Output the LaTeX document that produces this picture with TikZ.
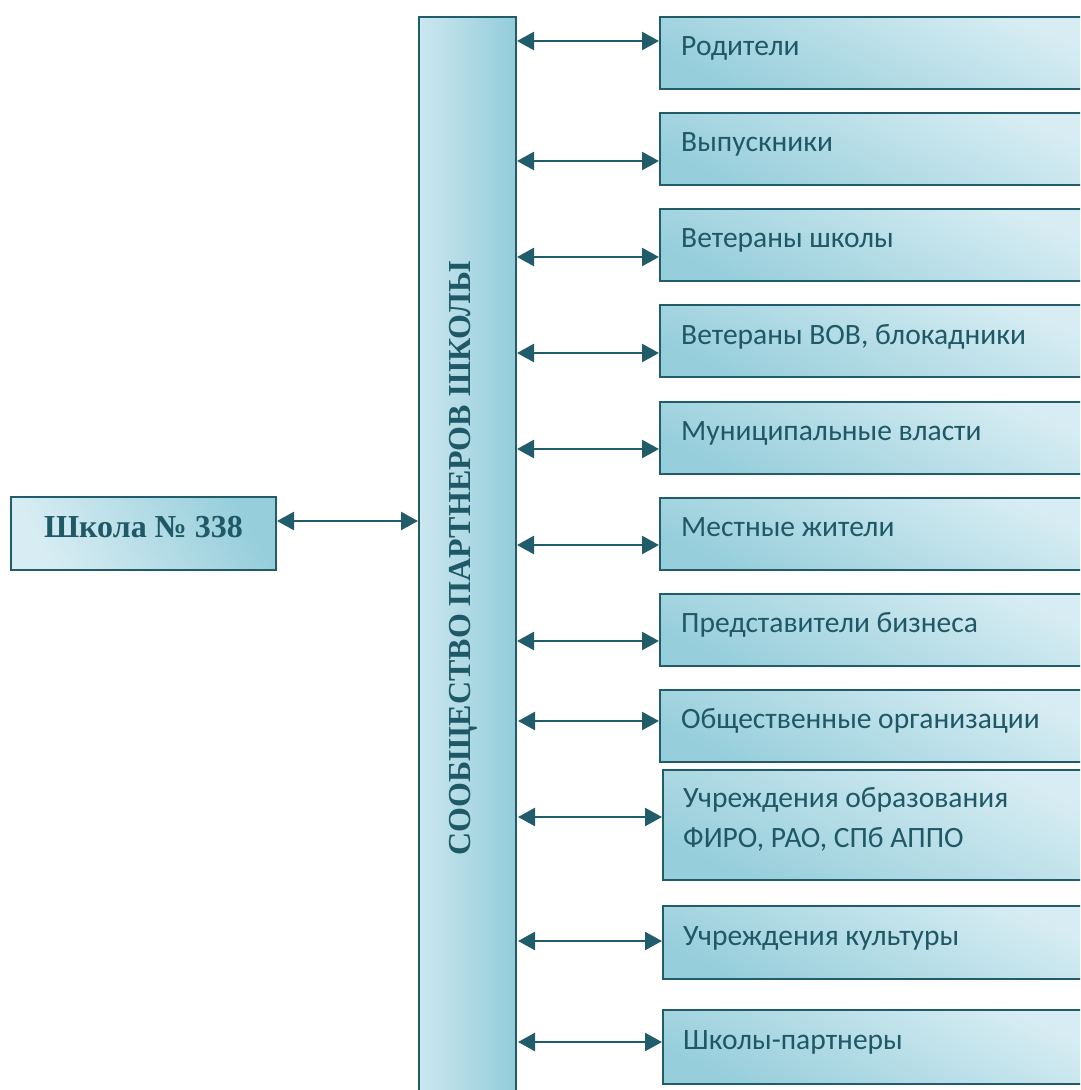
\documentclass[tikz,border=0pt]{standalone}
\usepackage{fontspec}
\setmainfont{Liberation Serif}
\newfontfamily\carlito{Carlito}
\usetikzlibrary{arrows.meta}
\definecolor{edge}{HTML}{215C6A}
\definecolor{ink}{HTML}{1F5866}
\definecolor{lightc}{HTML}{D8EDF3}
\definecolor{darkc}{HTML}{96CEDB}
\definecolor{barl}{HTML}{CBE7EF}
\definecolor{barr}{HTML}{93CCDA}
\tikzset{headtip/.tip={Triangle[length=17pt,width=18pt]}}
\begin{document}
\begin{tikzpicture}[x=1pt,y=-1pt,
  box/.style={draw=edge, line width=2pt, rectangle, inner sep=0pt, anchor=north west,
    top color=lightc, bottom color=darkc, shading angle=-25, minimum height=#1},
  box/.default=72pt,
  lbl/.style={anchor=base west, inner sep=0pt, text=ink, font=\carlito\fontsize{29.5}{40}\selectfont},
  arr/.style={headtip-headtip, draw=edge, line width=2.4pt}]
\useasboundingbox (0,0) rectangle (1080,1090);
\clip (0,0) rectangle (1080,1090);

% central bar
\node[draw=edge, line width=2pt, rectangle, inner sep=0pt, anchor=north west,
  left color=barl, right color=barr, minimum width=97pt, minimum height=1110pt] (bar) at (418,16) {};
\node[rotate=90, anchor=base, inner sep=0pt, text=ink, font=\bfseries\fontsize{32}{36}\selectfont] (bartxt) at (470,558) {СООБЩЕСТВО ПАРТНЕРОВ ШКОЛЫ};

% school box
\node[draw=edge, line width=2pt, rectangle, inner sep=0pt, anchor=north west,
  top color=darkc, bottom color=lightc, shading angle=-60, minimum width=265pt, minimum height=73pt] (school) at (10,496) {};
\node[anchor=base, inner sep=0pt, text=ink, font=\bfseries\fontsize{32}{36}\selectfont] (schooltxt) at (143.5,537) {Школа № 338};
\coordinate (sa) at (300,521);
\draw[arr] (school.east |- sa) -- (bar.west |- sa);

% right boxes
\node[box, minimum width=431pt] (b1) at (659,16) {};
\node[box, minimum width=431pt] (b2) at (659,112) {};
\node[box, minimum width=431pt] (b3) at (659,208) {};
\node[box, minimum width=431pt] (b4) at (659,304) {};
\node[box, minimum width=431pt] (b5) at (659,401) {};
\node[box, minimum width=431pt] (b6) at (659,497) {};
\node[box, minimum width=431pt] (b7) at (659,593) {};
\node[box, minimum width=431pt] (b8) at (659,689) {};
\node[box=110pt, minimum width=428pt] (b9) at (662,769) {};
\node[box=73pt, minimum width=428pt] (b10) at (662,905) {};
\node[box=74pt, minimum width=428pt] (b11) at (662,1009) {};

\node[lbl] (t1) at (681,55.5) {Родители};
\node[lbl] (t2) at (681,151.5) {Выпускники};
\node[lbl] (t3) at (681,247.5) {Ветераны школы};
\node[lbl] (t4) at (681,344) {Ветераны ВОВ, блокадники};
\node[lbl] (t5) at (681,440.5) {Муниципальные власти};
\node[lbl] (t6) at (681,536.5) {Местные жители};
\node[lbl] (t7) at (681,632.5) {Представители бизнеса};
\node[lbl] (t8) at (681,728.5) {Общественные организации};
\node[lbl] (t9a) at (683,807) {Учреждения образования};
\node[lbl] (t9b) at (683,847) {ФИРО, РАО, СПб АППО};
\node[lbl] (t10) at (683,945) {Учреждения культуры};
\node[lbl] (t11) at (683,1049) {Школы-партнеры};

% connectors
\coordinate (y1) at (600,41);
\coordinate (y2) at (600,161);
\coordinate (y3) at (600,257);
\coordinate (y4) at (600,353);
\coordinate (y5) at (600,449);
\coordinate (y6) at (600,545);
\coordinate (y7) at (600,641);
\coordinate (s8) at (518,721);
\coordinate (s9) at (518,817);
\coordinate (s10) at (518,941);
\coordinate (s11) at (518,1042);
\foreach \i in {1,...,7} {\draw[arr] (bar.east |- y\i) -- (b\i.west |- y\i);}
\foreach \i in {8,...,11} {\draw[arr] (s\i) -- (b\i.west |- s\i);}
\end{tikzpicture}
\end{document}
